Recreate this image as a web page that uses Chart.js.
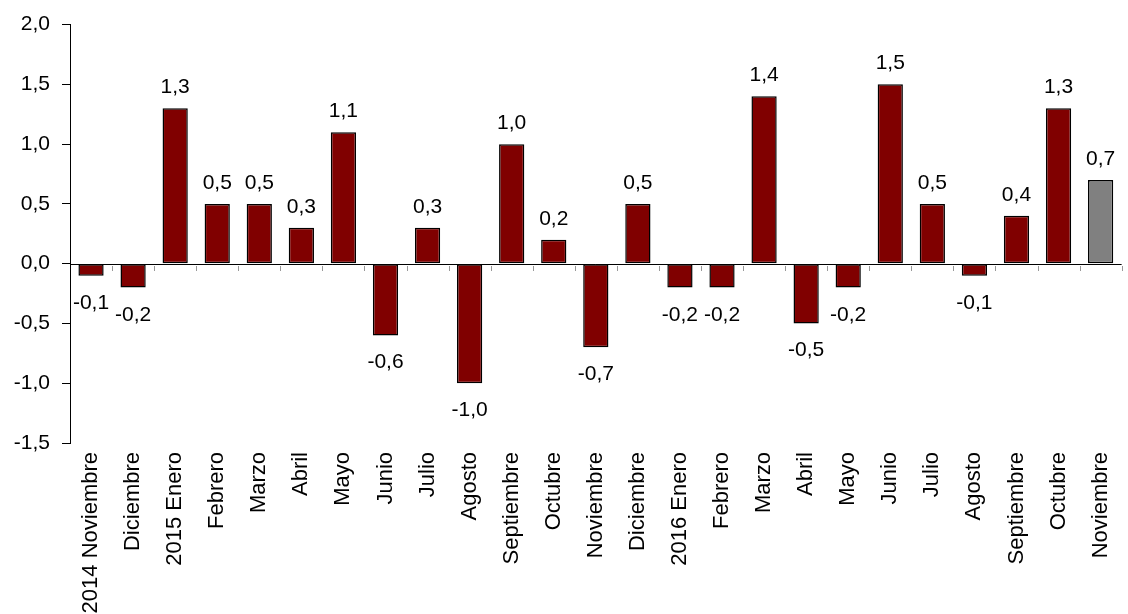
<!DOCTYPE html>
<html>
<head>
<meta charset="utf-8">
<script src="https://cdn.jsdelivr.net/npm/chart.js@4/dist/chart.umd.min.js"></script>
<style>
  body { margin: 0; background: #fff; }
  canvas { display: block; }
</style>
</head>
<body>
<canvas id="grafico" width="1128" height="614"></canvas>
<script>
// Meses y variación mensual
const meses = ["2014 Noviembre", "Diciembre", "2015 Enero", "Febrero", "Marzo", "Abril", "Mayo",
  "Junio", "Julio", "Agosto", "Septiembre", "Octubre", "Noviembre", "Diciembre", "2016 Enero",
  "Febrero", "Marzo", "Abril", "Mayo", "Junio", "Julio", "Agosto", "Septiembre", "Octubre", "Noviembre"];
const variacion = [-0.1, -0.2, 1.3, 0.5, 0.5, 0.3, 1.1, -0.6, 0.3, -1.0, 1.0, 0.2, -0.7, 0.5,
  -0.2, -0.2, 1.4, -0.5, -0.2, 1.5, 0.5, -0.1, 0.4, 1.3, 0.7];
const ticksY = [-1.5, -1.0, -0.5, 0.0, 0.5, 1.0, 1.5, 2.0];

const fuente = "Liberation Sans, Arial, sans-serif";
const coma = v => v.toFixed(1).replace(".", ",");

const colores = variacion.map((v, i) => i === variacion.length - 1 ? "#808080" : "#800000");

// Etiquetas de valor y línea del cero
const extras = {
  id: "extras",
  afterDatasetsDraw(chart) {
    const { ctx, chartArea, scales } = chart;
    const y0 = Math.round(scales.y.getPixelForValue(0));
    ctx.save();
    // línea del cero
    ctx.strokeStyle = "#000";
    ctx.lineWidth = 1;
    ctx.beginPath();
    ctx.moveTo(chartArea.left, y0 + 0.5);
    ctx.lineTo(chartArea.right, y0 + 0.5);
    ctx.stroke();
    // marcas entre categorías
    ctx.strokeStyle = "#999";
    for (let i = 1; i <= meses.length; i++) {
      const x = Math.round((scales.x.getPixelForValue(i - 1) + scales.x.getPixelForValue(i)) / 2) + 0.5;
      ctx.beginPath();
      ctx.moveTo(x, y0 + 2);
      ctx.lineTo(x, y0 + 7);
      ctx.stroke();
    }
    // valores
    ctx.fillStyle = "#000";
    ctx.font = "21px " + fuente;
    ctx.textAlign = "center";
    ctx.textBaseline = "alphabetic";
    chart.getDatasetMeta(0).data.forEach((bar, i) => {
      const v = variacion[i];
      if (v >= 0) {
        ctx.fillText(coma(v), bar.x, bar.y - 15);
      } else {
        ctx.fillText(coma(v), bar.x, bar.y + 33);
      }
    });
    ctx.restore();
  }
};

new Chart(document.getElementById("grafico"), {
  type: "bar",
  data: {
    labels: meses,
    datasets: [{
      data: variacion,
      backgroundColor: colores,
      borderColor: "#000",
      borderWidth: 1.5,
      borderSkipped: false,
      categoryPercentage: 1,
      barPercentage: 0.6
    }]
  },
  options: {
    responsive: false,
    animation: false,
    layout: { padding: { top: 22, right: 0, left: 0, bottom: 0 } },
    plugins: {
      legend: { display: false },
      tooltip: { enabled: false }
    },
    scales: {
      x: {
        afterFit: axis => { axis.height = 171; },
        grid: { display: false },
        border: { display: false },
        ticks: {
          color: "#000",
          font: { family: fuente, size: 22 },
          minRotation: 90,
          maxRotation: 90,
          autoSkip: false,
          padding: 1
        }
      },
      y: {
        min: -1.5,
        max: 2,
        afterBuildTicks: axis => { axis.ticks = ticksY.map(v => ({ value: v })); },
        afterFit: axis => { axis.width = 70; },
        grid: { drawOnChartArea: false, tickLength: 8, color: "#000" },
        border: { color: "#000" },
        ticks: {
          color: "#000",
          font: { family: fuente, size: 21 },
          padding: 12,
          callback: v => coma(v)
        }
      }
    }
  },
  plugins: [extras]
});
</script>
</body>
</html>
